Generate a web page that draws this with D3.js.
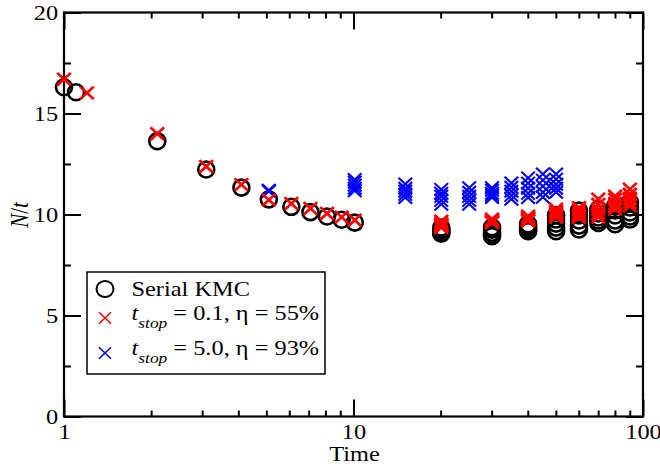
<!DOCTYPE html>
<html>
<head>
<meta charset="utf-8">
<script src="https://cdn.jsdelivr.net/npm/d3@7"></script>
<style>
  html, body { margin: 0; padding: 0; background: #fff; }
  svg { display: block; }
</style>
</head>
<body>
<svg id="chart" width="660" height="468"></svg>
<script>
// ---------------- data ----------------
const xTicksMajor = [1, 10, 100];
const xTicksMinor = [2, 3, 4, 5, 6, 7, 8, 9, 20, 30, 40, 50, 60, 70, 80, 90];
const yTicksMajor = [0, 5, 10, 15, 20];
const yTicksMinor = [2.5, 7.5, 12.5, 17.5];

const serialEarlyTimes = [1, 1.1, 2.1, 3.1, 4.1, 5.1, 6.1, 7.1, 8.1, 9.1, 10.1];
const serialEarly      = [16.3, 16.05, 13.63, 12.23, 11.33, 10.75, 10.38, 10.12, 9.9, 9.74, 9.6];

const redEarlyTimes = [1, 1.2, 2.1, 3.1, 4.1, 5.1, 6.1, 7.1, 8.1, 9.1, 10.1];
const redEarly      = [16.7, 16.02, 14.0, 12.38, 11.48, 10.72, 10.54, 10.3, 10.05, 9.87, 9.72];

const lateTimes = [20.1, 30.1, 40.1, 50.1, 60.1, 70.1, 80.1, 90.1];
const serialLate = [
  [9.35, 9.25, 9.2, 9.1, 9.05],
  [9.37, 9.25, 9.1, 9.0, 8.93],
  [9.52, 9.42, 9.3, 9.22, 9.17],
  [9.97, 9.75, 9.55, 9.35, 9.17],
  [10.19, 9.95, 9.7, 9.45, 9.26],
  [10.26, 10.05, 9.85, 9.7, 9.58],
  [10.43, 10.2, 9.95, 9.7, 9.52],
  [10.6, 10.35, 10.1, 9.9, 9.75]
];
const redLate = [
  [9.67, 9.55, 9.48, 9.42, 9.36],
  [9.77, 9.72, 9.66, 9.62, 9.6],
  [9.92, 9.85, 9.78, 9.72, 9.68],
  [10.26, 10.15, 10.05, 9.95, 9.87],
  [10.33, 10.2, 10.05, 9.95, 9.85],
  [10.76, 10.5, 10.25, 10.05, 9.87],
  [10.91, 10.75, 10.55, 10.4, 10.27],
  [11.25, 11.0, 10.8, 10.6, 10.43]
];

const blueTimes = [5.1, 10.1, 15.1, 20.1, 25.1, 30.1, 35.1, 40.1, 45.1, 50.1];
const blueRuns = [
  [11.2, 11.15],
  [11.73, 11.6, 11.45, 11.3, 11.17],
  [11.51, 11.3, 11.15, 11.0, 10.84],
  [11.24, 11.05, 10.9, 10.7, 10.51],
  [11.32, 11.1, 10.9, 10.7, 10.51],
  [11.32, 11.2, 11.05, 10.95, 10.84],
  [11.56, 11.35, 11.15, 10.95, 10.76],
  [11.81, 11.55, 11.3, 11.05, 10.84],
  [12.0, 11.7, 11.4, 11.1, 10.86],
  [12.0, 11.75, 11.5, 11.3, 11.1]
];

const legendLabels = ["Serial KMC", ["t", "stop", " = 0.1, \u03B7 = 55%"], ["t", "stop", " = 5.0, \u03B7 = 93%"]];
const xTitle = "Time";
const yTitle = ["N", "/", "t"];

// ---------------- layout ----------------
const W = 660, H = 468;
const L = 64, R = 643, T = 12.5, B = 416.5;
const SX = 1.16;              // horizontal stretch of the original figure
const FONT = "'Liberation Serif', 'Times New Roman', serif";
const FS = 21;

const svg = d3.select("#chart");
const x = d3.scaleLog().domain([1, 100]).range([L, R]);
const y = d3.scaleLinear().domain([0, 20]).range([B, T]);

// build point lists
const serialPts = serialEarlyTimes.map((t, i) => [t, serialEarly[i]]);
lateTimes.forEach((t, i) => serialLate[i].forEach(v => serialPts.push([t, v])));
const redPts = redEarlyTimes.map((t, i) => [t, redEarly[i]]);
lateTimes.forEach((t, i) => redLate[i].forEach(v => redPts.push([t, v])));
const bluePts = [];
blueTimes.forEach((t, i) => blueRuns[i].forEach(v => bluePts.push([t, v])));

// ---------------- axes ----------------
function styleAxis(g, withLabels) {
  g.select(".domain").remove();
  g.selectAll(".tick line").attr("stroke", "#000").attr("stroke-width", 2);
  if (!withLabels) g.selectAll(".tick text").remove();
  else g.selectAll(".tick text")
        .attr("font-family", FONT).attr("font-size", FS).attr("fill", "#000")
        .attr("transform", `scale(${SX},1)`);
}

svg.append("g").attr("transform", `translate(0,${B})`)
  .call(d3.axisBottom(x).tickValues(xTicksMajor).tickSize(-17).tickPadding(8).tickFormat(d3.format("d")))
  .call(g => styleAxis(g, true));
svg.append("g").attr("transform", `translate(0,${B})`)
  .call(d3.axisBottom(x).tickValues(xTicksMinor).tickSize(-6).tickFormat(""))
  .call(g => styleAxis(g, false));
svg.append("g").attr("transform", `translate(0,${T})`)
  .call(d3.axisTop(x).tickValues(xTicksMajor).tickSize(-17).tickFormat(""))
  .call(g => styleAxis(g, false));
svg.append("g").attr("transform", `translate(0,${T})`)
  .call(d3.axisTop(x).tickValues(xTicksMinor).tickSize(-6).tickFormat(""))
  .call(g => styleAxis(g, false));

svg.append("g").attr("transform", `translate(${L},0)`)
  .call(d3.axisLeft(y).tickValues(yTicksMajor).tickSize(-17).tickPadding(5).tickFormat(d3.format("d")))
  .call(g => styleAxis(g, true));
svg.append("g").attr("transform", `translate(${L},0)`)
  .call(d3.axisLeft(y).tickValues(yTicksMinor).tickSize(-7).tickFormat(""))
  .call(g => styleAxis(g, false));
svg.append("g").attr("transform", `translate(${R},0)`)
  .call(d3.axisRight(y).tickValues(yTicksMajor).tickSize(-17).tickFormat(""))
  .call(g => styleAxis(g, false));
svg.append("g").attr("transform", `translate(${R},0)`)
  .call(d3.axisRight(y).tickValues(yTicksMinor).tickSize(-7).tickFormat(""))
  .call(g => styleAxis(g, false));

// frame
svg.append("rect").attr("x", L).attr("y", T).attr("width", R - L).attr("height", B - T)
  .attr("fill", "none").attr("stroke", "#000").attr("stroke-width", 2.2);

// axis titles
svg.append("text")
  .attr("transform", `translate(${(L + R) / 2 + 1},461) scale(${SX},1)`)
  .attr("text-anchor", "middle").attr("font-family", FONT).attr("font-size", FS)
  .text(xTitle);
const yt = svg.append("text")
  .attr("transform", `translate(28,215) scale(${SX},1) rotate(-90)`)
  .attr("text-anchor", "middle").attr("font-family", FONT).attr("font-size", FS);
yt.append("tspan").attr("font-style", "italic").text(yTitle[0]);
yt.append("tspan").text(yTitle[1]);
yt.append("tspan").attr("font-style", "italic").text(yTitle[2]);

// ---------------- marks ----------------
const xPath = "M-6.3,-6.3L6.3,6.3M-6.3,6.3L6.3,-6.3";
const plot = svg.append("g");

plot.append("g").selectAll("circle").data(serialPts).join("circle")
  .attr("cx", d => x(d[0])).attr("cy", d => y(d[1])).attr("r", 8)
  .attr("fill", "none").attr("stroke", "#000").attr("stroke-width", 2.6);

plot.append("g").selectAll("path").data(bluePts).join("path")
  .attr("transform", d => `translate(${x(d[0])},${y(d[1])}) scale(1.08,1)`)
  .attr("d", xPath).attr("fill", "none").attr("stroke", "#0000ff").attr("stroke-width", 2);

plot.append("g").selectAll("path").data(redPts).join("path")
  .attr("transform", d => `translate(${x(d[0])},${y(d[1])}) scale(1.08,1)`)
  .attr("d", xPath).attr("fill", "none").attr("stroke", "#ff0000").attr("stroke-width", 2.6);

// ---------------- legend ----------------
const lg = svg.append("g");
lg.append("rect").attr("x", 87).attr("y", 272).attr("width", 238).attr("height", 102)
  .attr("fill", "#fff").attr("stroke", "#000").attr("stroke-width", 1.5);

const legendRows = [
  { y: 289, kind: "circle", color: "#000", base: 296 },
  { y: 318, kind: "x", color: "#ff0000", base: 320 },
  { y: 353, kind: "x", color: "#0000ff", base: 355 }
];
legendRows.forEach((row, i) => {
  if (row.kind === "circle") {
    lg.append("ellipse").attr("cx", 105).attr("cy", row.y).attr("rx", 8.5).attr("ry", 8)
      .attr("fill", "none").attr("stroke", "#000").attr("stroke-width", 2);
  } else {
    lg.append("path").attr("transform", `translate(105,${row.y}) scale(0.95,0.9)`)
      .attr("d", xPath).attr("fill", "none").attr("stroke", row.color).attr("stroke-width", 1.6);
  }
  const t = lg.append("text")
    .attr("transform", `translate(131.5,${row.base}) scale(${SX},1)`)
    .attr("font-family", FONT).attr("font-size", FS);
  const lab = legendLabels[i];
  if (typeof lab === "string") {
    t.text(lab);
  } else {
    t.append("tspan").attr("font-style", "italic").text(lab[0]);
    t.append("tspan").attr("font-style", "italic").attr("font-size", 15).attr("dy", 8).text(lab[1]);
    t.append("tspan").attr("dy", -8).text(lab[2]);
  }
});
</script>
</body>
</html>
